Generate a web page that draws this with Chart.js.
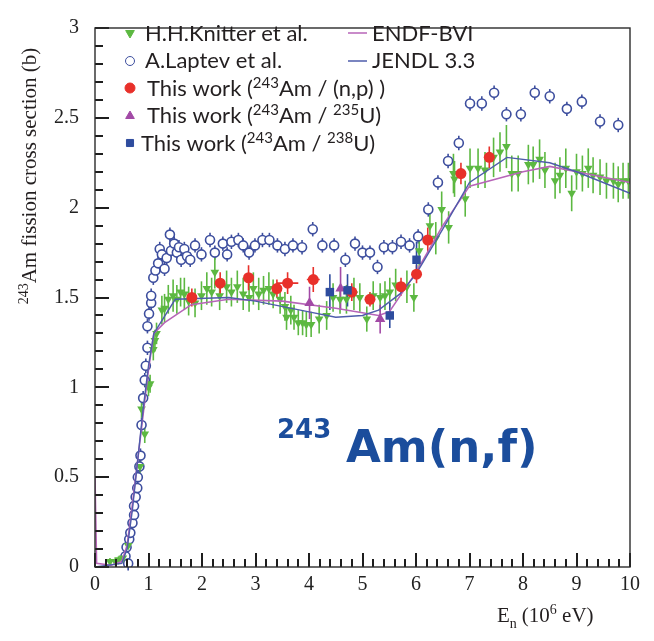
<!DOCTYPE html>
<html>
<head>
<meta charset="utf-8">
<script src="https://cdn.jsdelivr.net/npm/chart.js@4.4.1/dist/chart.umd.min.js"></script>
<style>
  html, body { margin: 0; padding: 0; background: #fff; }
  #wrap { width: 654px; height: 641px; }
</style>
</head>
<body>
<div id="wrap"><canvas id="grafico" width="654" height="641"></canvas></div>
<script>
// eixos
const xTicks = [0, 1, 2, 3, 4, 5, 6, 7, 8, 9, 10];
const yTicks = [0, 0.5, 1, 1.5, 2, 2.5, 3];

// H.H.Knitter et al. (triângulos para baixo, verde)
const knitterX = [0.28, 0.38, 0.44, 0.52, 0.62, 0.84, 0.87, 0.93, 1.00, 1.03, 1.09, 1.12, 1.15, 1.25, 1.30, 1.37, 1.46, 1.53, 1.60, 1.67, 1.75, 1.87, 1.99, 2.09, 2.18, 2.24, 2.33, 2.46, 2.55, 2.66, 2.77, 2.88, 2.96, 3.06, 3.15, 3.25, 3.33, 3.46, 3.55, 3.58, 3.66, 3.72, 3.80, 3.88, 3.95, 4.04, 4.19, 4.33, 4.45, 4.58, 4.70, 4.84, 4.95, 5.08, 5.20, 5.33, 5.42, 5.51, 5.62, 5.83, 5.96, 6.06, 6.26, 6.37, 6.48, 6.61, 6.70, 6.72, 6.92, 7.01, 7.16, 7.29, 7.45, 7.57, 7.69, 7.79, 7.91, 8.10, 8.19, 8.31, 8.41, 8.60, 8.69, 8.80, 8.91, 9.00, 9.11, 9.22, 9.31, 9.44, 9.56, 9.69, 9.78, 9.87, 9.97];
const knitterY = [0.03, 0.03, 0.04, 0.05, 0.12, 0.56, 0.88, 0.74, 1.00, 1.02, 1.21, 1.26, 1.30, 1.43, 1.44, 1.49, 1.51, 1.49, 1.53, 1.52, 1.48, 1.47, 1.51, 1.55, 1.53, 1.64, 1.51, 1.56, 1.53, 1.56, 1.52, 1.50, 1.55, 1.52, 1.54, 1.55, 1.52, 1.49, 1.45, 1.39, 1.43, 1.39, 1.36, 1.36, 1.35, 1.35, 1.38, 1.40, 1.50, 1.49, 1.49, 1.52, 1.50, 1.38, 1.51, 1.50, 1.51, 1.53, 1.57, 1.56, 1.50, 1.76, 1.90, 1.83, 1.99, 1.89, 2.19, 2.16, 2.05, 2.22, 2.22, 2.21, 2.28, 2.31, 2.34, 2.19, 2.19, 2.24, 2.24, 2.27, 2.21, 2.15, 2.18, 2.22, 2.08, 2.20, 2.19, 2.22, 2.18, 2.17, 2.15, 2.15, 2.13, 2.15, 2.15];
const knitterErr = [0.02, 0.02, 0.02, 0.02, 0.03, 0.04, 0.05, 0.05, 0.05, 0.05, 0.06, 0.06, 0.06, 0.08, 0.08, 0.08, 0.09, 0.08, 0.08, 0.09, 0.08, 0.08, 0.08, 0.09, 0.08, 0.09, 0.08, 0.09, 0.08, 0.09, 0.09, 0.08, 0.09, 0.09, 0.08, 0.09, 0.08, 0.08, 0.08, 0.07, 0.08, 0.07, 0.07, 0.07, 0.07, 0.07, 0.08, 0.08, 0.08, 0.08, 0.08, 0.09, 0.08, 0.07, 0.08, 0.08, 0.08, 0.08, 0.09, 0.09, 0.08, 0.09, 0.10, 0.09, 0.10, 0.09, 0.11, 0.10, 0.10, 0.11, 0.11, 0.10, 0.11, 0.11, 0.12, 0.10, 0.10, 0.11, 0.10, 0.11, 0.10, 0.10, 0.10, 0.11, 0.10, 0.10, 0.10, 0.11, 0.10, 0.10, 0.10, 0.10, 0.10, 0.10, 0.10];

// A.Laptev et al. (círculos abertos)
const laptevX = [0.57, 0.59, 0.62, 0.64, 0.66, 0.70, 0.73, 0.73, 0.76, 0.79, 0.80, 0.83, 0.85, 0.87, 0.90, 0.93, 0.95, 0.98, 0.98, 1.01, 1.05, 1.05, 1.09, 1.13, 1.18, 1.21, 1.25, 1.30, 1.34, 1.40, 1.42, 1.48, 1.53, 1.57, 1.61, 1.67, 1.72, 1.78, 1.87, 1.99, 2.15, 2.24, 2.39, 2.47, 2.55, 2.68, 2.77, 2.88, 2.99, 3.13, 3.26, 3.41, 3.55, 3.70, 3.87, 4.07, 4.25, 4.47, 4.68, 4.86, 5.00, 5.14, 5.28, 5.40, 5.56, 5.72, 5.88, 6.04, 6.23, 6.41, 6.60, 6.80, 7.01, 7.23, 7.46, 7.69, 7.96, 8.22, 8.50, 8.82, 9.10, 9.44, 9.78];
const laptevY = [0.06, 0.11, 0.02, 0.155, 0.19, 0.245, 0.29, 0.34, 0.39, 0.44, 0.50, 0.56, 0.62, 0.79, 0.94, 1.04, 1.12, 1.22, 1.34, 1.41, 1.47, 1.51, 1.61, 1.65, 1.69, 1.77, 1.74, 1.66, 1.72, 1.85, 1.76, 1.80, 1.75, 1.78, 1.71, 1.77, 1.73, 1.71, 1.79, 1.74, 1.82, 1.75, 1.80, 1.74, 1.81, 1.82, 1.79, 1.75, 1.79, 1.82, 1.82, 1.79, 1.77, 1.79, 1.78, 1.88, 1.79, 1.79, 1.71, 1.80, 1.75, 1.75, 1.67, 1.78, 1.78, 1.81, 1.79, 1.84, 1.99, 2.14, 2.26, 2.36, 2.58, 2.58, 2.64, 2.52, 2.52, 2.64, 2.62, 2.55, 2.59, 2.48, 2.46];
const laptevErr = 0.04;

// This work (243Am / (n,p))
const npX = [1.81, 2.34, 2.87, 3.40, 3.60, 4.08, 4.80, 5.14, 5.72, 6.01, 6.22, 6.84, 7.37];
const npY = [1.50, 1.58, 1.61, 1.55, 1.58, 1.60, 1.53, 1.49, 1.56, 1.63, 1.82, 2.19, 2.28];
const npErr = [0.05, 0.06, 0.07, 0.05, 0.06, 0.07, 0.05, 0.04, 0.05, 0.05, 0.07, 0.06, 0.06];
const npErrX = [0.08, 0.05, 0.05, 0.05, 0.2, 0.12, 0.05, 0.05, 0.05, 0.05, 0.05, 0.05, 0.05];

// This work (243Am / 235U)
const u235X = [4.01, 4.59, 5.33];
const u235Y = [1.47, 1.55, 1.38];
const u235Err = [0.09, 0.12, 0.08];

// This work (243Am / 238U)
const u238X = [4.39, 4.72, 5.51, 6.01];
const u238Y = [1.53, 1.54, 1.40, 1.71];
const u238Err = [0.10, 0.09, 0.07, 0.10];

// avaliações
const endfX = [0, 0.03, 0.3, 0.5, 0.6, 0.7, 0.8, 0.9, 1.0, 1.1, 1.3, 1.8, 2.5, 3.5, 4.5, 5.3, 5.5, 6.0, 6.5, 7.0, 7.5, 8.0, 8.5, 9.0, 10];
const endfY = [0.5, 0.02, 0.01, 0.03, 0.12, 0.35, 0.6, 0.85, 1.1, 1.3, 1.36, 1.46, 1.49, 1.48, 1.44, 1.40, 1.42, 1.64, 1.9, 2.12, 2.16, 2.2, 2.23, 2.2, 2.14];
const jendlX = [0, 0.5, 0.6, 0.7, 0.8, 0.9, 1.0, 1.1, 1.5, 2.5, 3.0, 4.0, 4.5, 5.0, 5.3, 5.7, 6.0, 6.5, 7.0, 7.7, 8.5, 9.0, 10];
const jendlY = [0, 0.02, 0.1, 0.32, 0.6, 0.88, 1.12, 1.3, 1.49, 1.5, 1.48, 1.42, 1.39, 1.4, 1.43, 1.52, 1.63, 1.88, 2.14, 2.28, 2.25, 2.2, 2.08];

const pts = (xs, ys) => xs.map((x, i) => ({ x: x, y: ys[i] }));

const cores = {
    knitter: '#5cb841',
    laptev: '#3d4e9e',
    np: '#e8302a',
    u235: '#a24aa6',
    u238: '#2e4c9e',
    endf: '#b765b8',
    jendl: '#4e5cab',
    texto: '#231f20'
};

const serif = '"Liberation Serif", "DejaVu Serif", serif';
const sans = 'Lato, "Noto Sans", sans-serif';

// texto com sobrescritos: partes = [[texto, sobrescrito?], ...]
function textoRico(ctx, partes, x, y, tam, familia, alinhar) {
    const medir = p => {
        ctx.font = (p[1] ? Math.round(tam * 0.68) : tam) + 'px ' + familia;
        return ctx.measureText(p[0]).width;
    };
    const total = partes.reduce((s, p) => s + medir(p), 0);
    let cx = alinhar === 'center' ? x - total / 2 : x;
    ctx.textBaseline = 'alphabetic';
    ctx.textAlign = 'left';
    partes.forEach(p => {
        const w = medir(p);
        ctx.fillText(p[0], cx, p[1] ? y - tam * 0.38 : y);
        cx += w;
    });
}

// barras de erro desenhadas com as escalas do gráfico
const barrasErro = {
    id: 'barrasErro',
    beforeDatasetsDraw(chart) {
        const ctx = chart.ctx;
        const xs = chart.scales.x, ys = chart.scales.y;
        ctx.save();
        chart.data.datasets.forEach(ds => {
            if (ds.errY === undefined) return;
            ctx.strokeStyle = ds.borderColor;
            ctx.lineWidth = 1.6;
            ds.data.forEach((p, i) => {
                const e = Array.isArray(ds.errY) ? ds.errY[i] : ds.errY;
                const px = xs.getPixelForValue(p.x);
                ctx.beginPath();
                ctx.moveTo(px, ys.getPixelForValue(p.y - e));
                ctx.lineTo(px, ys.getPixelForValue(p.y + e));
                if (ds.errX) {
                    const py = ys.getPixelForValue(p.y);
                    ctx.moveTo(xs.getPixelForValue(p.x - ds.errX[i]), py);
                    ctx.lineTo(xs.getPixelForValue(p.x + ds.errX[i]), py);
                }
                ctx.stroke();
            });
        });
        ctx.restore();
    }
};

// marcas internas dos eixos (esquerda e embaixo) + moldura
const marcas = {
    id: 'marcas',
    afterDraw(chart) {
        const ctx = chart.ctx;
        const a = chart.chartArea;
        const xs = chart.scales.x, ys = chart.scales.y;
        ctx.save();
        ctx.fillStyle = '#1e1e1e';
        for (let k = 0; k <= 30; k++) {
            const py = Math.round(ys.getPixelForValue(k / 10));
            ctx.fillRect(a.left, py - 1, k % 5 === 0 ? 14 : 8, 2);
        }
        for (let k = 0; k <= 50; k++) {
            const px = Math.round(xs.getPixelForValue(k / 5));
            const len = k % 5 === 0 ? 14 : 8;
            ctx.fillRect(px - 1, a.bottom - len, 2, len);
        }
        ctx.strokeStyle = '#2b2b2b';
        ctx.lineWidth = 1.4;
        ctx.strokeRect(a.left, a.top, a.right - a.left, a.bottom - a.top);
        ctx.restore();
    }
};

// títulos, anotação e legenda
const decoracao = {
    id: 'decoracao',
    afterDraw(chart) {
        const ctx = chart.ctx;
        ctx.save();

        // título do eixo y
        ctx.fillStyle = cores.texto;
        ctx.save();
        ctx.translate(36, 176);
        ctx.rotate(-Math.PI / 2);
        textoRico(ctx, [['243', true], ['Am fission cross section (b)', false]], 0, 0, 21, serif, 'center');
        ctx.restore();

        // título do eixo x
        ctx.font = '21px ' + serif;
        let x0 = 497;
        ctx.textAlign = 'left';
        ctx.fillText('E', x0, 622);
        x0 += ctx.measureText('E').width;
        ctx.font = '14px ' + serif;
        ctx.fillText('n', x0, 628);
        x0 += ctx.measureText('n').width + 5;
        textoRico(ctx, [['(10', false], ['6', true], [' eV)', false]], x0, 622, 21, serif, 'left');

        // anotação
        ctx.fillStyle = '#1b4d9c';
        ctx.font = 'bold 26px "DejaVu Sans", sans-serif';
        ctx.fillText('243', 277, 438);
        ctx.font = 'bold 45px "DejaVu Sans", sans-serif';
        ctx.fillText('Am(n,f)', 346, 462);

        // legenda
        const h = Chart.helpers;
        const marcador = (cor, estilo, rot, r, vazio, x, y) => {
            ctx.fillStyle = vazio ? '#fff' : cor;
            ctx.strokeStyle = cor;
            h.drawPoint(ctx, { pointStyle: estilo, rotation: rot, radius: r, borderWidth: vazio ? 1.6 : 0.01 }, x, y);
        };
        marcador(cores.knitter, 'triangle', 180, 5, false, 130, 33);
        marcador(cores.laptev, 'circle', 0, 4.5, true, 130, 61);
        marcador(cores.np, 'circle', 0, 5, false, 130, 88);
        marcador(cores.u235, 'triangle', 0, 5, false, 130, 116);
        marcador(cores.u238, 'rect', 0, 5, false, 130, 143);

        ctx.fillStyle = cores.texto;
        const f = 22;
        textoRico(ctx, [['H.H.Knitter et al.', false]], 145, 41, f, sans, 'left');
        textoRico(ctx, [['A.Laptev et al.', false]], 145, 68, f, sans, 'left');
        textoRico(ctx, [['This work (', false], ['243', true], ['Am / (n,p) )', false]], 147, 96, f, sans, 'left');
        textoRico(ctx, [['This work (', false], ['243', true], ['Am / ', false], ['235', true], ['U)', false]], 147, 123, f, sans, 'left');
        textoRico(ctx, [['This work (', false], ['243', true], ['Am / ', false], ['238', true], ['U)', false]], 141, 151, f, sans, 'left');

        ctx.lineWidth = 1.5;
        ctx.strokeStyle = cores.endf;
        ctx.beginPath(); ctx.moveTo(348, 33); ctx.lineTo(367, 33); ctx.stroke();
        ctx.strokeStyle = cores.jendl;
        ctx.beginPath(); ctx.moveTo(348, 61); ctx.lineTo(367, 61); ctx.stroke();
        textoRico(ctx, [['ENDF-BVI', false]], 372, 41, f, sans, 'left');
        textoRico(ctx, [['JENDL 3.3', false]], 372, 68, f, sans, 'left');
        ctx.restore();
    }
};

const ctxGrafico = document.getElementById('grafico').getContext('2d');
new Chart(ctxGrafico, {
    type: 'scatter',
    data: {
        datasets: [
            {
                label: 'A.Laptev et al.',
                data: pts(laptevX, laptevY),
                errY: laptevErr,
                borderColor: cores.laptev,
                backgroundColor: '#fff',
                pointStyle: 'circle',
                pointRadius: 4.5,
                pointBorderWidth: 1.6,
                order: 6
            },
            {
                label: 'H.H.Knitter et al.',
                data: pts(knitterX, knitterY),
                errY: knitterErr,
                borderColor: cores.knitter,
                backgroundColor: cores.knitter,
                pointStyle: 'triangle',
                rotation: 180,
                pointRadius: 5,
                pointBorderWidth: 0,
                order: 5
            },
            {
                label: 'ENDF-BVI',
                type: 'line',
                data: pts(endfX, endfY),
                borderColor: cores.endf,
                borderWidth: 1.6,
                pointRadius: 0,
                tension: 0,
                order: 4
            },
            {
                label: 'JENDL 3.3',
                type: 'line',
                data: pts(jendlX, jendlY),
                borderColor: cores.jendl,
                borderWidth: 1.4,
                pointRadius: 0,
                tension: 0,
                order: 3
            },
            {
                label: 'This work (243Am / (n,p))',
                data: pts(npX, npY),
                errY: npErr,
                errX: npErrX,
                borderColor: cores.np,
                backgroundColor: cores.np,
                pointStyle: 'circle',
                pointRadius: 5.5,
                pointBorderWidth: 0,
                order: 2
            },
            {
                label: 'This work (243Am / 235U)',
                data: pts(u235X, u235Y),
                errY: u235Err,
                borderColor: cores.u235,
                backgroundColor: cores.u235,
                pointStyle: 'triangle',
                pointRadius: 6,
                pointBorderWidth: 0,
                order: 1
            },
            {
                label: 'This work (243Am / 238U)',
                data: pts(u238X, u238Y),
                errY: u238Err,
                borderColor: cores.u238,
                backgroundColor: cores.u238,
                pointStyle: 'rect',
                pointRadius: 6,
                pointBorderWidth: 0,
                order: 0
            }
        ]
    },
    options: {
        responsive: false,
        animation: false,
        devicePixelRatio: 1,
        layout: { padding: { top: 12, right: 24, left: 0, bottom: 0 } },
        scales: {
            x: {
                type: 'linear',
                min: 0,
                max: 10,
                afterFit: s => { s.height = 74; },
                afterBuildTicks: s => { s.ticks = xTicks.map(v => ({ value: v })); },
                ticks: { color: '#222', padding: 6, font: { family: serif, size: 20 }, maxRotation: 0, callback: v => String(v) },
                grid: { display: false, drawTicks: false },
                border: { display: false }
            },
            y: {
                type: 'linear',
                min: 0,
                max: 3,
                afterFit: s => { s.width = 95; },
                afterBuildTicks: s => { s.ticks = yTicks.map(v => ({ value: v })); },
                ticks: { color: '#222', padding: 16, font: { family: serif, size: 20 }, callback: v => String(v) },
                grid: { display: false, drawTicks: false },
                border: { display: false }
            }
        },
        plugins: {
            legend: { display: false },
            tooltip: { enabled: false }
        }
    },
    plugins: [barrasErro, marcas, decoracao]
});
</script>
</body>
</html>
